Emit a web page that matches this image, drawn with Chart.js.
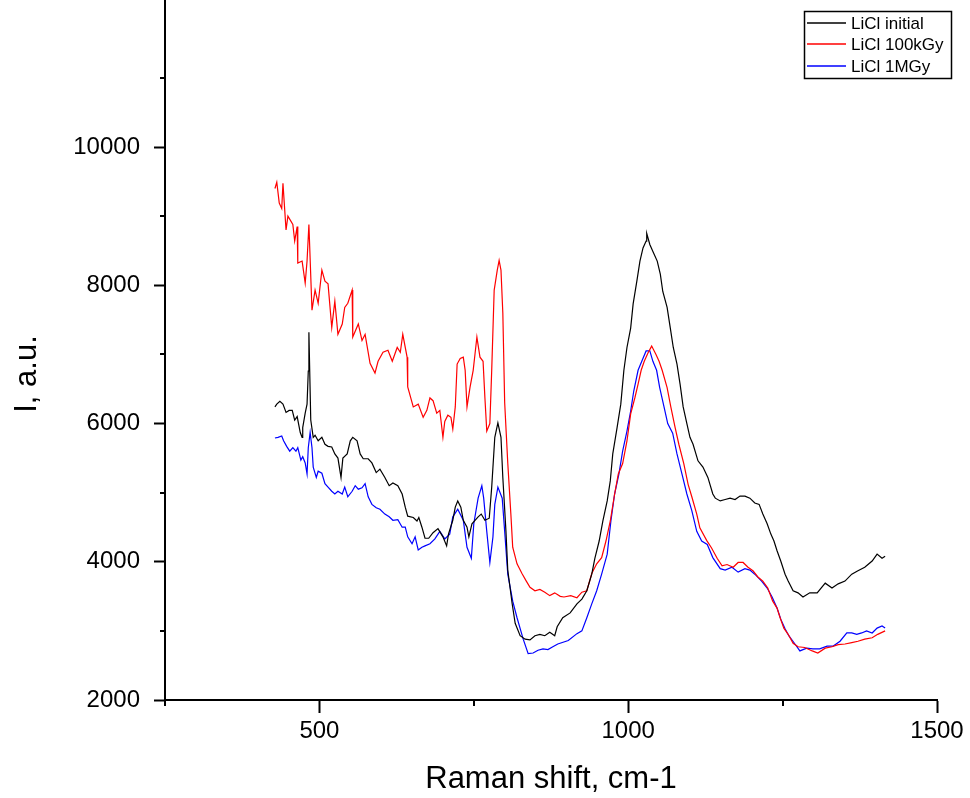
<!DOCTYPE html>
<html>
<head>
<meta charset="utf-8">
<title>LiCl Raman spectra</title>
<script src="https://cdn.jsdelivr.net/npm/chart.js@4.4.1/dist/chart.umd.min.js"></script>
<style>
  html, body { margin: 0; padding: 0; background: #fff; }
  #wrap { width: 970px; height: 798px; }
</style>
</head>
<body>
<div id="wrap"><canvas id="ramanChart" width="970" height="798"></canvas></div>
<script>
/* ===== data ===== */
const seriesLabels = ['LiCl initial', 'LiCl 100kGy', 'LiCl 1MGy'];
const seriesColors = ['#000000', '#ff0000', '#0000ff'];

const xMajorTicks = [500, 1000, 1500];
const xMinorTicks = [250, 750, 1250];
const yMajorTicks = [2000, 4000, 6000, 8000, 10000];
const yMinorTicks = [3000, 5000, 7000, 9000, 11000];

const blackX = [428,431,436,441,446,451,456,460,464,469,472,473,477,480,482,483,486,490,493,498,504,509,514,520,525,530,535,538,545,550,554,561,566,571,579,585,592,598,606,613,619,627,634,639,643,652,658,661,666,671,677,684,692,700,706,709,716,720,724,729,733,739,742,747,752,757,762,768,775,779,784,789,794,797,802,805,812,817,825,833,841,849,857,865,873,881,885,894,906,917,925,933,941,946,953,959,966,971,975,982,988,993,998,1004,1008,1014,1019,1024,1029,1030,1035,1040,1047,1052,1056,1063,1068,1073,1079,1084,1089,1095,1100,1105,1113,1121,1129,1137,1141,1149,1157,1165,1173,1181,1189,1197,1205,1212,1218,1225,1231,1236,1241,1247,1254,1259,1267,1275,1283,1294,1306,1319,1330,1340,1351,1362,1372,1383,1395,1403,1411,1416];
const blackY = [6240,6280,6320,6280,6160,6190,6190,6050,6100,5870,5800,5940,6150,6280,6760,7320,6050,5800,5830,5750,5800,5700,5670,5660,5560,5500,5220,5500,5560,5750,5800,5750,5560,5490,5490,5430,5290,5340,5220,5100,5140,5100,4980,4790,4660,4640,4590,4640,4500,4340,4340,4420,4480,4360,4230,4400,4600,4790,4880,4790,4600,4500,4360,4550,4600,4650,4690,4600,4630,5080,5800,6010,5800,5220,4450,3880,3400,3110,2930,2880,2870,2930,2950,2930,2980,2930,3060,3190,3260,3390,3460,3580,3820,4050,4300,4590,4880,5170,5560,5940,6280,6770,7100,7380,7730,8060,8350,8540,8640,8750,8590,8490,8350,8160,7910,7680,7390,7100,6860,6570,6240,6000,5800,5700,5460,5370,5220,4980,4920,4880,4900,4920,4900,4950,4950,4920,4850,4830,4690,4550,4400,4300,4160,4010,3820,3720,3580,3550,3490,3550,3550,3690,3620,3680,3720,3820,3870,3920,4010,4110,4050,4080];

const redX = [428,431,435,439,441,446,449,457,460,464,465,472,477,480,483,488,493,498,504,509,514,520,525,530,537,541,546,553,554,563,569,574,582,590,595,603,611,618,626,631,635,642,643,652,660,668,674,679,684,690,695,700,703,708,713,716,720,723,728,733,736,739,744,749,752,755,760,765,768,771,776,779,783,788,791,794,797,800,805,810,813,820,828,835,841,849,857,865,873,881,890,896,907,917,925,933,941,949,957,964,971,978,984,991,998,1004,1011,1016,1021,1026,1032,1038,1045,1050,1055,1063,1069,1076,1082,1090,1097,1103,1111,1116,1127,1135,1144,1152,1160,1170,1178,1186,1194,1202,1210,1218,1226,1234,1241,1246,1252,1259,1267,1275,1286,1298,1307,1319,1330,1340,1351,1362,1372,1383,1395,1404,1416];
const redY = [9400,9490,9190,9110,9475,8800,9000,8880,8640,8850,8320,8350,8030,8350,8880,7640,7930,7740,8220,8060,8020,7390,7770,7290,7440,7680,7740,7930,7250,7440,7200,7290,6870,6730,6900,7030,7060,6900,7100,7030,7290,6960,6530,6240,6280,6090,6190,6370,6330,6150,6190,5800,6030,6120,6090,5920,6240,6860,6940,6960,6770,6240,6530,6770,7010,7250,6960,6900,6370,5890,6000,6770,7930,8220,8360,8220,7600,6300,5430,4690,4210,3970,3830,3720,3630,3580,3600,3560,3510,3550,3500,3490,3510,3480,3560,3580,3830,3970,4060,4300,4590,4980,5270,5420,5750,6140,6380,6570,6770,6900,7020,7120,7000,6900,6770,6520,6240,5940,5700,5420,5120,4940,4690,4490,4310,4200,4050,3940,3960,3920,3990,3990,3920,3870,3780,3720,3620,3430,3330,3190,3040,2950,2820,2770,2760,2710,2680,2750,2770,2800,2810,2830,2850,2880,2900,2950,3000];

const blueX = [428,433,439,442,447,452,457,462,465,470,473,477,480,482,485,488,490,495,498,504,509,514,520,525,530,537,541,546,553,558,563,569,574,579,585,592,598,606,613,619,627,634,639,643,650,655,660,666,671,679,687,695,703,711,716,724,733,739,746,750,757,763,766,771,776,781,784,789,796,800,805,813,820,830,838,846,854,862,870,878,886,903,917,925,933,941,949,957,966,972,978,985,991,998,1004,1009,1016,1022,1029,1035,1040,1046,1051,1058,1064,1072,1079,1087,1095,1103,1111,1119,1128,1137,1149,1157,1168,1178,1189,1197,1205,1216,1225,1233,1241,1247,1254,1260,1270,1278,1289,1299,1310,1322,1332,1343,1354,1362,1370,1378,1386,1395,1403,1411,1416];
const blueY = [5790,5800,5820,5750,5670,5600,5650,5600,5650,5470,5520,5430,5270,5650,5870,5650,5370,5220,5310,5280,5130,5080,5020,4980,5020,4980,5080,4940,5020,5100,5050,5070,5130,4940,4830,4780,4760,4690,4650,4600,4610,4500,4500,4360,4260,4360,4170,4210,4230,4260,4330,4440,4330,4400,4650,4760,4600,4210,4050,4550,4920,5100,4920,4440,3990,4360,4830,5080,4920,4440,3820,3430,3190,2880,2670,2680,2720,2740,2730,2770,2810,2860,2960,3000,3190,3390,3580,3820,4110,4590,4980,5270,5600,5890,6180,6470,6770,6900,7050,7050,6900,6770,6520,6240,6000,5860,5560,5270,4980,4740,4440,4300,4250,4060,3900,3880,3920,3850,3900,3880,3820,3720,3620,3490,3330,3170,3030,2930,2810,2710,2750,2740,2740,2780,2780,2850,2970,2970,2950,2970,3000,2970,3040,3070,3040];

const FONT = 'Arial, "Liberation Sans", sans-serif';

function toPoints(xs, ys) {
  return xs.map((x, i) => ({ x: x, y: ys[i] }));
}

// Origin-style minor ticks, placed through the chart's own scales
const minorTicksPlugin = {
  id: 'minorTicks',
  afterDraw(chart) {
    const { ctx, chartArea, scales } = chart;
    ctx.save();
    ctx.strokeStyle = '#000';
    ctx.lineWidth = 2;
    ctx.beginPath();
    xMinorTicks.forEach(v => {
      const px = Math.round(scales.x.getPixelForValue(v));
      ctx.moveTo(px, chartArea.bottom);
      ctx.lineTo(px, chartArea.bottom + 6);
    });
    yMinorTicks.forEach(v => {
      const py = Math.round(scales.y.getPixelForValue(v));
      ctx.moveTo(chartArea.left, py);
      ctx.lineTo(chartArea.left - 5, py);
    });
    ctx.stroke();
    ctx.restore();
  }
};

// y axis title, placed a little below the middle as in the reference
const yTitlePlugin = {
  id: 'yTitle',
  afterDraw(chart) {
    const { ctx } = chart;
    ctx.save();
    ctx.translate(27, 374);
    ctx.rotate(-Math.PI / 2);
    ctx.font = '31px ' + FONT;
    ctx.fillStyle = '#000';
    ctx.textAlign = 'center';
    ctx.textBaseline = 'middle';
    ctx.fillText('I, a.u.', 0, 0);
    ctx.restore();
  }
};

// boxed legend in the top-right corner
const legendBoxPlugin = {
  id: 'legendBox',
  afterDraw(chart) {
    const { ctx } = chart;
    const rows = [23, 44, 66];
    ctx.save();
    ctx.strokeStyle = '#000';
    ctx.lineWidth = 1.5;
    ctx.strokeRect(804.5, 11.5, 147, 67);
    ctx.font = '17px ' + FONT;
    ctx.textBaseline = 'middle';
    ctx.textAlign = 'left';
    chart.data.datasets.forEach((ds, i) => {
      ctx.strokeStyle = ds.borderColor;
      ctx.lineWidth = 1.5;
      ctx.beginPath();
      ctx.moveTo(807, rows[i]);
      ctx.lineTo(846, rows[i]);
      ctx.stroke();
      ctx.fillStyle = '#000';
      ctx.fillText(ds.label, 851, rows[i] + 1);
    });
    ctx.restore();
  }
};

const ctx = document.getElementById('ramanChart');
new Chart(ctx, {
  type: 'line',
  data: {
    datasets: [
      { label: seriesLabels[0], data: toPoints(blackX, blackY), borderColor: seriesColors[0] },
      { label: seriesLabels[1], data: toPoints(redX, redY), borderColor: seriesColors[1] },
      { label: seriesLabels[2], data: toPoints(blueX, blueY), borderColor: seriesColors[2] }
    ]
  },
  options: {
    responsive: false,
    animation: false,
    layout: { padding: { top: 0, right: 33, bottom: 0, left: 0 } },
    elements: {
      point: { radius: 0 },
      line: { borderWidth: 1.2, tension: 0, fill: false }
    },
    plugins: { legend: { display: false }, tooltip: { enabled: false } },
    scales: {
      x: {
        type: 'linear',
        min: 250, max: 1500,
        afterFit: s => { s.height = 98; s.paddingLeft = 0; s.paddingRight = 0; },
        afterBuildTicks: s => { s.ticks = xMajorTicks.map(v => ({ value: v })); },
        grid: { drawOnChartArea: false, tickLength: 13, tickWidth: 2, tickColor: '#000' },
        border: { color: '#000', width: 2 },
        ticks: { font: { family: FONT, size: 24 }, color: '#000', padding: 4, maxRotation: 0, callback: v => String(v) },
        title: { display: true, text: 'Raman shift, cm-1', font: { family: FONT, size: 31 }, color: '#000', padding: 0 }
      },
      y: {
        type: 'linear',
        min: 2000, max: 12127,
        afterFit: s => { s.width = 165; s.paddingTop = 0; s.paddingBottom = 0; },
        afterBuildTicks: s => { s.ticks = yMajorTicks.map(v => ({ value: v })); },
        grid: { drawOnChartArea: false, tickLength: 11, tickWidth: 2, tickColor: '#000' },
        border: { color: '#000', width: 2 },
        ticks: { font: { family: FONT, size: 24 }, color: '#000', padding: 14, callback: v => String(v) }
      }
    }
  },
  plugins: [minorTicksPlugin, yTitlePlugin, legendBoxPlugin]
});
</script>
</body>
</html>
